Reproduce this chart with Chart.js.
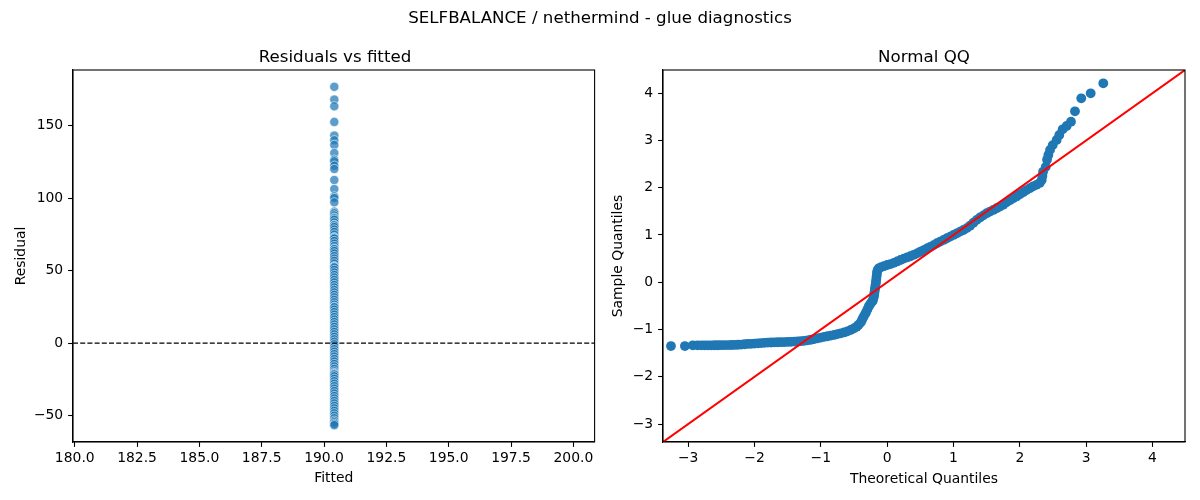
<!DOCTYPE html>
<html>
<head>
<meta charset="utf-8">
<script src="https://cdn.jsdelivr.net/npm/chart.js@4.4.1/dist/chart.umd.min.js"></script>
<style>
  html, body { margin: 0; padding: 0; background: #fff; }
  #wrap { position: relative; width: 1200px; height: 500px; overflow: hidden; font-family: "DejaVu Sans", sans-serif; color: #000; }
  canvas { position: absolute; top: 0; }
  .t { position: absolute; white-space: nowrap; font-size: 16.67px; line-height: 20px; transform: translateX(-50%); }
</style>
</head>
<body>
<div id="wrap">
  <canvas id="c1" width="600" height="500" style="left:0px;width:600px;height:500px"></canvas>
  <canvas id="c2" width="600" height="500" style="left:600px;width:600px;height:500px"></canvas>
  <div class="t" style="left:600px;top:8px">SELFBALANCE / nethermind - glue diagnostics</div>
  <div class="t" style="left:335px;top:46.5px">Residuals vs fitted</div>
  <div class="t" style="left:924px;top:46.5px">Normal QQ</div>
</div>
<script>
// ---------- data ----------
const fittedValue = 190.41;
const residuals = [176.6, 167.8, 163.2, 152.4, 143.0, 139.8, 136.6, 131.0, 126.4, 125.3, 122.3, 120.0,
  112.4, 106.2, 101.1, 100.0, 97.0, 90.6, 89.5, 88.0, 86.5, 86.0, 85.0, 83.2, 81.5, 81.2, 80.0, 78.3,
  76.6, 74.8, 73.0, 72.6, 72.1, 70.4, 68.6, 66.9, 65.2, 64.8, 63.5, 61.8, 60.0, 58.3, 56.7, 54.9, 53.1,
  52.6, 52.2, 50.5, 48.7, 47.0, 45.3, 43.6, 41.9, 40.1, 38.4, 36.7, 35.0, 33.3, 31.6, 29.9, 28.2, 26.5,
  25.0, 24.8, 23.1, 21.4, 19.7, 18.0, 16.3, 14.6, 12.9, 11.2, 9.5, 7.8, 6.1, 4.4, 2.7, 1.0, -0.7, -2.4,
  -4.1, -5.8, -7.5, -9.2, -10.9, -12.6, -14.3, -16.0, -17.7, -19.4, -20.5, -21.1, -21.6, -22.8, -24.5,
  -26.2, -27.9, -29.6, -31.3, -33.0, -34.7, -36.4, -38.1, -39.8, -41.5, -43.2, -44.9, -46.6, -48.3,
  -50.0, -51.7, -53.4, -54.5, -55.6, -56.5];
const fittedTicks = [180.0, 182.5, 185.0, 187.5, 190.0, 192.5, 195.0, 197.5, 200.0];
const residualTicks = [-50, 0, 50, 100, 150];
const fittedRange = [179.93, 200.85];
const residualRange = [-68.1, 188.2];

const qqTheoretical = [-3.26, -3.05, -2.93, -2.86, -2.80, -2.75, -2.70, -2.65, -2.60, -2.55, -2.50, -2.45,
  -2.40, -2.35, -2.30, -2.25, -2.20, -2.15, -2.10, -2.05, -2.00, -1.95, -1.90, -1.85, -1.80, -1.75, -1.70,
  -1.65, -1.60, -1.55, -1.50, -1.45, -1.40, -1.35, -1.30, -1.25, -1.20, -1.15, -1.10, -1.05, -1.00, -0.95,
  -0.90, -0.85, -0.80, -0.75, -0.70, -0.65, -0.60, -0.55, -0.50, -0.46, -0.43, -0.40, -0.38, -0.36, -0.34,
  -0.32, -0.30, -0.28, -0.26, -0.24, -0.22, -0.21, -0.20, -0.195, -0.19, -0.185, -0.18, -0.175, -0.17,
  -0.165, -0.16, -0.155, -0.15, -0.14, -0.12, -0.09, -0.05, 0.00, 0.05, 0.10, 0.15, 0.20, 0.25, 0.30,
  0.35, 0.40, 0.45, 0.50, 0.55, 0.60, 0.65, 0.70, 0.75, 0.80, 0.85, 0.90, 0.95, 1.00, 1.05, 1.10, 1.15,
  1.20, 1.25, 1.30, 1.35, 1.40, 1.45, 1.50, 1.55, 1.60, 1.65, 1.70, 1.75, 1.80, 1.85, 1.90, 1.95, 2.00,
  2.05, 2.10, 2.15, 2.20, 2.25, 2.30, 2.33, 2.34, 2.35, 2.39, 2.41, 2.43, 2.455, 2.495, 2.555, 2.595,
  2.646, 2.706, 2.771, 2.831, 2.926, 3.068, 3.258];
const qqSample = [-1.350, -1.350, -1.335, -1.335, -1.335, -1.335, -1.334, -1.334, -1.333, -1.333, -1.332,
  -1.331, -1.330, -1.328, -1.326, -1.323, -1.318, -1.312, -1.306, -1.302, -1.298, -1.294, -1.288, -1.281,
  -1.278, -1.275, -1.272, -1.270, -1.268, -1.265, -1.263, -1.260, -1.257, -1.254, -1.248, -1.240, -1.230,
  -1.217, -1.202, -1.186, -1.170, -1.155, -1.143, -1.130, -1.115, -1.098, -1.080, -1.062, -1.040, -1.010,
  -0.975, -0.940, -0.900, -0.850, -0.800, -0.740, -0.690, -0.640, -0.580, -0.520, -0.470, -0.430, -0.400,
  -0.350, -0.300, -0.250, -0.200, -0.150, -0.100, -0.050, 0.000, 0.060, 0.120, 0.180, 0.230, 0.270, 0.300,
  0.320, 0.340, 0.365, 0.385, 0.410, 0.440, 0.470, 0.500, 0.525, 0.550, 0.580, 0.610, 0.645, 0.680, 0.715,
  0.750, 0.785, 0.825, 0.860, 0.895, 0.930, 0.965, 1.000, 1.035, 1.070, 1.105, 1.145, 1.195, 1.260, 1.320,
  1.370, 1.415, 1.460, 1.495, 1.530, 1.565, 1.600, 1.640, 1.690, 1.735, 1.775, 1.815, 1.860, 1.905, 1.950,
  1.990, 2.030, 2.060, 2.100, 2.163, 2.250, 2.340, 2.440, 2.590, 2.690, 2.800, 2.900, 3.010, 3.115, 3.235,
  3.305, 3.397, 3.616, 3.891, 3.997, 4.209];
const quantileTicks = [-3, -2, -1, 0, 1, 2, 3, 4];
const quantileRange = [-3.38, 4.49];

// ---------- helpers ----------
const FONT = '"DejaVu Sans", sans-serif';
const tickFont = { family: FONT, size: 13.9 };
const minus = s => String(s).replace('-', '\u2212');

const frame = {
  id: 'frame',
  afterDraw(chart) {
    const a = chart.chartArea, ctx = chart.ctx;
    ctx.save();
    ctx.strokeStyle = '#000';
    ctx.lineWidth = 1.1;
    ctx.strokeRect(a.left, a.top, a.right - a.left, a.bottom - a.top);
    ctx.restore();
  }
};

function axis(range, ticks, fmt, title, titlePad, fixedSize, horizontal) {
  return {
    type: 'linear',
    min: range[0], max: range[1],
    afterBuildTicks: s => { s.ticks = ticks.map(v => ({ value: v })); },
    afterFit: s => { if (horizontal) s.height = fixedSize; else s.width = fixedSize; },
    ticks: { font: tickFont, color: '#000', padding: horizontal ? 3 : 4.9, autoSkip: false, maxRotation: 0,
             callback: v => minus(fmt(v)) },
    grid: { drawOnChartArea: false, drawTicks: true, tickLength: 4.9, tickColor: '#000', tickWidth: 1.1 },
    border: { display: true, color: '#000', width: 1.1 },
    title: { display: true, text: title, color: '#000', font: { family: FONT, size: 13.9 },
             padding: titlePad }
  };
}

const common = {
  responsive: false, animation: false, devicePixelRatio: 1,
  plugins: { legend: { display: false }, tooltip: { enabled: false }, title: { display: false } },
  events: []
};

// ---------- left: residuals vs fitted ----------
new Chart(document.getElementById('c1'), {
  type: 'scatter',
  data: {
    datasets: [
      { type: 'line', data: [{ x: fittedRange[0], y: 0 }, { x: fittedRange[1], y: 0 }],
        borderColor: '#000', borderWidth: 1.2, borderDash: [5, 2.2], pointRadius: 0, order: 0 },
      { data: residuals.map(r => ({ x: fittedValue, y: r })),
        backgroundColor: 'rgba(31,119,180,0.72)', borderColor: 'rgba(255,255,255,0.7)', borderWidth: 0.8,
        pointRadius: 4.6, order: 1 }
    ]
  },
  options: Object.assign({}, common, {
    layout: { padding: { left: 0, top: 70, right: 2, bottom: 0 } },
    scales: {
      x: axis(fittedRange, fittedTicks, v => v.toFixed(1), 'Fitted', { top: 0, bottom: 13.5 }, 58, true),
      y: axis(residualRange, residualTicks, v => v.toFixed(0), 'Residual', { top: 12.7, bottom: 0 }, 73, false)
    }
  }),
  plugins: [frame]
});

// ---------- right: normal QQ ----------
new Chart(document.getElementById('c2'), {
  type: 'scatter',
  data: {
    datasets: [
      { type: 'line', data: [{ x: quantileRange[0], y: quantileRange[0] }, { x: quantileRange[1], y: quantileRange[1] }],
        borderColor: '#ff0000', borderWidth: 2, pointRadius: 0, order: 0 },
      { data: qqTheoretical.map((t, i) => ({ x: t, y: qqSample[i] })),
        backgroundColor: '#1f77b4', borderColor: '#1f77b4', borderWidth: 0,
        pointRadius: 4.9, order: 1 }
    ]
  },
  options: Object.assign({}, common, {
    layout: { padding: { left: 0, top: 70, right: 15, bottom: 0 } },
    scales: {
      x: axis(quantileRange, quantileTicks, v => v.toFixed(0), 'Theoretical Quantiles', { top: 0, bottom: 12.5 }, 58, true),
      y: axis(quantileRange, quantileTicks, v => v.toFixed(0), 'Sample Quantiles', { top: 9.7, bottom: 0 }, 63, false)
    }
  }),
  plugins: [frame]
});
</script>
</body>
</html>
